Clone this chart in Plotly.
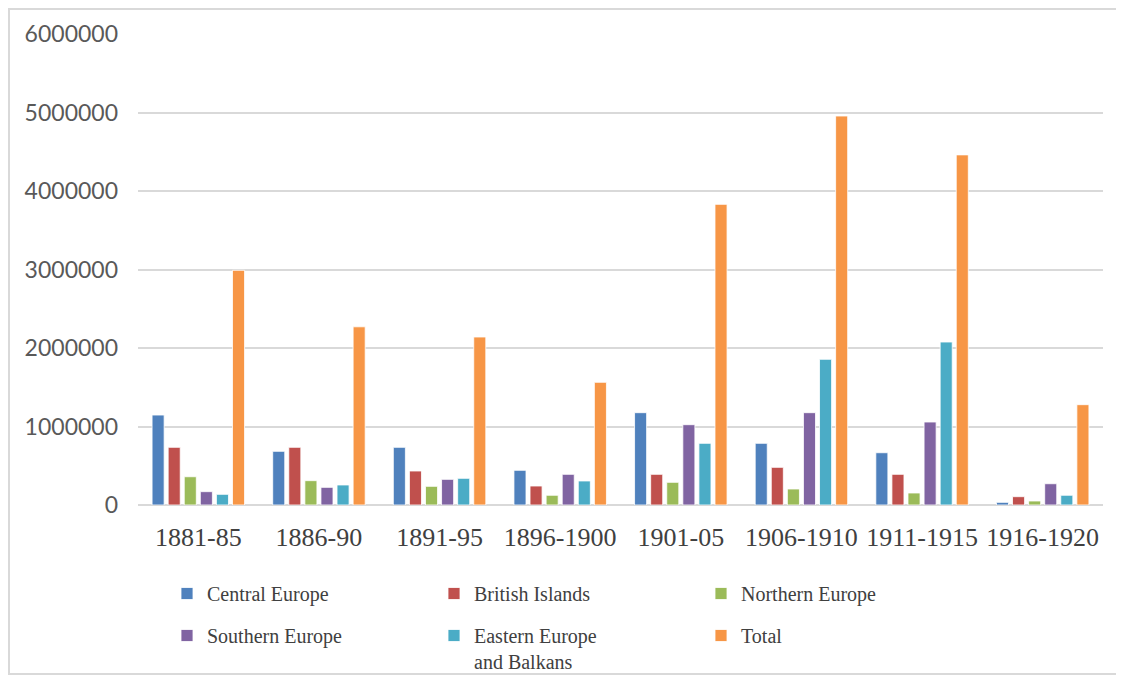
import plotly.graph_objects as go

categories = ["1881-85", "1886-90", "1891-95", "1896-1900", "1901-05", "1906-1910", "1911-1915", "1916-1920"]
central_europe = [1146000, 684000, 735000, 442000, 1176000, 786000, 666000, 34000]
british_islands = [735000, 735000, 433000, 242000, 391000, 480000, 391000, 106000]
northern_europe = [360000, 310000, 238000, 124000, 289000, 204000, 153000, 51000]
southern_europe = [170000, 225000, 327000, 391000, 1023000, 1176000, 1057000, 271000]
eastern_europe = [136000, 255000, 340000, 306000, 786000, 1856000, 2076000, 124000]
total = [2990000, 2270000, 2140000, 1563000, 3830000, 4955000, 4460000, 1278000]

series = [
    ("Central Europe", central_europe, "#4F81BD", "legend"),
    ("British Islands", british_islands, "#C0504D", "legend"),
    ("Northern Europe", northern_europe, "#9BBB59", "legend"),
    ("Southern Europe", southern_europe, "#8064A2", "legend2"),
    ("Eastern Europe<br>and Balkans", eastern_europe, "#4BACC6", "legend2"),
    ("Total", total, "#F79646", "legend2"),
]

fig = go.Figure()
for name, vals, color, leg in series:
    fig.add_trace(go.Bar(
        x=categories, y=vals, name=name, legend=leg,
        marker=dict(color=color, line=dict(color="rgba(255,255,255,0.8)", width=1)),
    ))

# the page body adds an 8px offset; figure coordinates are page minus 8
OFF = 8
W, H = 1124 - OFF, 675 - OFF
ml, mr, mt, mb = 130, 21, 26, 170
pw, ph = W - ml - mr, H - mt - mb

def px_x(p):  # page pixel -> paper
    return (p - OFF - ml) / pw

def px_y(p):
    return (H - mb - (p - OFF)) / ph

legend_common = dict(
    orientation="h", xanchor="left", yanchor="top",
    font=dict(family="Liberation Serif", size=20, color="#404040"),
    entrywidth=222, entrywidthmode="pixels", valign="top",
    bgcolor="rgba(0,0,0,0)", itemclick=False, traceorder="normal",
)

fig.update_layout(
    width=W, height=H,
    margin=dict(l=ml, r=mr, t=mt, b=mb, autoexpand=False),
    paper_bgcolor="white", plot_bgcolor="white",
    barmode="group", bargap=0.2, bargroupgap=0.25,
    legend=dict(x=px_x(167), y=px_y(574), **legend_common),
    legend2=dict(x=px_x(167), y=px_y(616), **legend_common),
    xaxis=dict(
        type="category",
        showgrid=False, showline=False, ticks="",
        tickfont=dict(family="Liberation Serif", size=26, color="#404040"),
        ticklabelstandoff=14,
    ),
    yaxis=dict(
        range=[0, 6000000], dtick=1000000, tickformat="d",
        showgrid=True, gridcolor="#D9D9D9", gridwidth=1.5,
        zeroline=True, zerolinecolor="#D9D9D9", zerolinewidth=1.5,
        showline=False, ticks="",
        tickfont=dict(family="Lato", size=23, color="#595959"),
        ticklabelstandoff=19,
    ),
    shapes=[dict(
        type="rect", xref="paper", yref="paper",
        x0=px_x(9), x1=px_x(1200), y0=px_y(674), y1=px_y(9),
        line=dict(color="#D9D9D9", width=2), fillcolor="rgba(0,0,0,0)", layer="below",
    )],
)

fig.write_html("out.html")
